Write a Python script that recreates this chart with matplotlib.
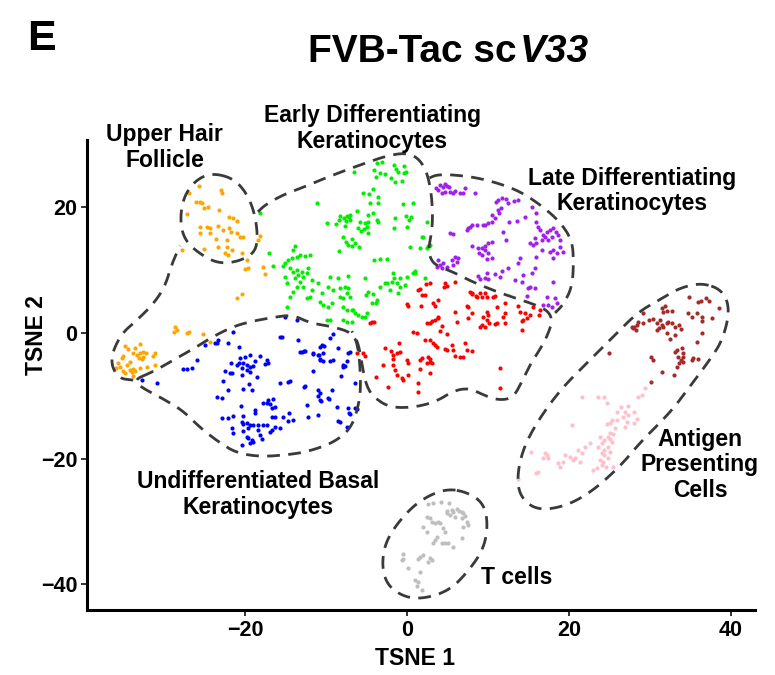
import numpy as np
import matplotlib
matplotlib.use("Agg")
import matplotlib.pyplot as plt

plt.rcParams['font.family'] = ['Liberation Sans', 'DejaVu Sans']
plt.rcParams['font.weight'] = 'bold'

# --- cell coordinates (TSNE 1, TSNE 2) ---
upper_hair_follicle = [
    (-25.7, 23.4), (-26.9, 22.3), (-23.0, 22.8), (-22.8, 22.3), (-26.0, 20.9), (-25.6, 20.9),
    (-25.3, 20.7), (-25.1, 19.9), (-24.6, 20.1), (-23.2, 19.6), (-27.2, 18.9), (-22.0, 18.5),
    (-21.5, 18.3), (-21.0, 17.8), (-25.6, 16.9), (-24.7, 16.9), (-24.3, 16.7), (-23.3, 17.0),
    (-22.7, 16.4), (-22.0, 16.7), (-25.6, 15.9), (-24.3, 15.9), (-21.7, 16.1), (-21.0, 15.9),
    (-23.6, 15.0), (-20.6, 15.3), (-20.2, 15.3), (-18.1, 15.4), (-18.4, 14.8), (-22.2, 14.8),
    (-23.3, 13.7), (-25.1, 13.4), (-22.2, 13.7), (-21.6, 13.2), (-27.8, 13.2), (-22.5, 12.7),
    (-22.1, 12.4), (-20.4, 12.7), (-19.8, 11.6), (-19.6, 10.4), (-20.0, 10.2), (-17.8, 10.5),
    (-17.5, 9.4), (-21.0, 5.6), (-20.4, 6.2), (-28.6, 1.0), (-28.4, 0.5), (-28.8, 0.2),
    (-27.2, 0.0), (-26.9, 0.2), (-25.2, -0.2), (-24.3, -1.4),
    (-34.8, -2.1), (-34.4, -2.5), (-33.6, -2.4), (-33.0, -1.8), (-33.8, -3.2), (-33.3, -3.5),
    (-33.0, -3.2), (-32.6, -3.0), (-32.2, -3.2), (-31.1, -3.2), (-31.4, -3.7), (-35.1, -3.7),
    (-35.2, -4.0), (-34.2, -4.6), (-33.1, -4.0), (-32.7, -4.1), (-32.6, -3.8), (-35.7, -4.8),
    (-35.9, -5.6), (-35.1, -6.1), (-34.8, -6.4), (-34.2, -5.9), (-34.0, -6.2), (-33.8, -5.7),
    (-33.6, -6.1), (-33.0, -5.6), (-32.1, -5.4), (-31.1, -5.1), (-33.8, -6.8), (-35.4, -5.4),
    (-34.6, -5.1),
]

early_diff = [
    (-3.7, 27.1), (-3.1, 27.2), (-1.6, 26.8), (-0.4, 26.6), (-0.1, 25.6), (-0.4, 25.5),
    (-1.4, 26.1), (-1.1, 25.6), (-6.5, 25.6), (-4.1, 26.0), (-3.8, 24.8), (-3.3, 25.5),
    (-2.7, 25.3), (-2.0, 24.7), (-1.5, 24.0), (-0.6, 24.2), (-4.2, 22.9), (-5.4, 22.3),
    (-4.7, 22.1), (-3.6, 21.7), (-4.6, 20.7), (-3.6, 20.7), (-11.1, 20.7), (-0.5, 20.5),
    (0.7, 20.7), (-18.1, 19.1), (-6.2, 19.4), (-8.3, 18.6), (-7.8, 18.3), (-7.4, 18.6),
    (-7.2, 18.5), (-7.0, 18.8), (-8.4, 18.0), (-7.5, 17.8), (-7.0, 18.0), (-4.8, 18.8),
    (-4.2, 19.1), (-1.5, 18.3), (-0.1, 18.6), (0.2, 18.0), (0.5, 18.5), (-5.8, 17.7),
    (-5.2, 17.5), (-4.8, 17.7), (-3.7, 18.0), (-3.6, 17.7), (-9.9, 17.5), (-8.8, 17.4),
    (-7.7, 17.0), (-6.0, 16.7), (-5.7, 16.2), (-5.3, 16.6), (-4.9, 16.9), (-4.8, 15.9),
    (-1.6, 16.7), (0.0, 16.9), (-7.9, 15.3), (-6.8, 15.0), (-7.5, 14.5), (-7.3, 14.0),
    (-6.8, 13.9), (-6.4, 14.3), (-5.9, 13.7), (1.9, 15.3), (-8.4, 13.1), (0.4, 13.7),
    (1.6, 13.5), (2.7, 13.9), (-13.8, 13.9), (-14.1, 13.2), (-17.0, 12.7), (-16.5, 10.7),
    (-15.1, 11.1), (-15.3, 10.7), (-14.7, 11.6), (-14.2, 11.9), (-13.6, 12.1), (-13.2, 12.4),
    (-12.6, 12.3), (-12.0, 12.4), (-14.4, 10.4), (-14.1, 9.7), (-13.6, 10.0), (-13.5, 9.2),
    (-13.0, 9.7), (-12.8, 8.9), (-12.3, 9.6), (-12.2, 10.4), (-13.8, 8.8), (-13.2, 8.1),
    (-12.8, 7.3), (-13.6, 7.3), (-14.1, 6.5), (-14.4, 5.7), (-14.8, 8.0), (-15.1, 8.9),
    (-11.7, 8.4), (-11.7, 6.8), (-11.0, 8.0), (-10.5, 6.4), (-10.7, 4.9), (-12.0, 5.7),
    (-12.3, 5.6), (-14.8, 4.1), (-9.5, 8.9), (-8.5, 8.8), (-7.3, 9.1), (-9.8, 7.3),
    (-9.1, 6.8), (-8.3, 7.2), (-7.7, 7.3), (-7.3, 7.2), (-7.4, 6.4), (-7.9, 5.6),
    (-7.0, 5.7), (-8.3, 5.7), (-10.4, 4.5), (-9.3, 4.8), (-9.8, 4.1), (-7.9, 4.1),
    (-7.4, 3.7), (-6.8, 3.7), (-6.4, 3.2), (-6.0, 2.9), (-5.6, 2.5), (-5.2, 2.5),
    (-9.9, 2.1), (-9.5, 2.1), (-7.9, 2.1), (-7.4, 1.8), (-6.8, 1.8), (-4.0, 11.6),
    (-3.3, 11.8), (-2.5, 11.8), (-5.2, 8.8), (-3.3, 7.3), (-2.5, 8.0), (-1.9, 8.1),
    (-1.6, 8.8), (-1.2, 8.0), (-0.9, 7.3), (-0.2, 7.6), (0.0, 8.9), (1.0, 9.6),
    (1.0, 9.9), (-4.8, 6.5), (-5.1, 6.1), (-4.2, 6.2), (-3.7, 5.3), (-4.3, 4.8),
    (-3.8, 4.8), (-4.9, 3.2), (2.5, 17.7), (2.0, 15.3), (2.6, 13.9), (2.5, 13.5),
    (2.8, 14.0), (2.2, 8.8), (-1.7, 9.6), (-0.9, 8.8), (0.7, 9.6), (-2.7, 8.0),
    (-2.1, 6.8), (-1.1, 6.4), (-6.7, 3.7),
]

late_diff = [
    (4.1, 23.6), (4.4, 23.2), (4.7, 23.7), (4.9, 23.4), (5.2, 23.2), (3.6, 23.1), (3.8, 22.8),
    (4.3, 22.3), (4.7, 22.5), (5.3, 22.5), (5.7, 22.3), (5.9, 22.6), (6.5, 22.3), (6.9, 22.3),
    (7.2, 23.1), (8.4, 22.3), (11.2, 21.2), (11.0, 20.9), (11.7, 21.5), (12.3, 21.3),
    (12.5, 20.7), (13.2, 21.0), (13.7, 21.2), (11.6, 19.9), (10.5, 18.8), (11.2, 19.6),
    (11.4, 19.1), (10.9, 18.3), (10.5, 17.7), (10.0, 17.5), (9.6, 17.2), (9.4, 17.2),
    (8.1, 17.2), (8.6, 17.2), (7.8, 16.9), (7.4, 16.4), (7.5, 16.7), (12.6, 17.7),
    (13.6, 17.8), (14.6, 18.5), (15.4, 20.1), (16.0, 19.1), (5.3, 15.9), (5.7, 15.8),
    (11.9, 16.1), (12.3, 14.8), (10.5, 14.5), (10.0, 14.3), (9.6, 13.9), (9.3, 13.5),
    (8.8, 13.5), (8.1, 13.9), (8.9, 12.7), (9.3, 12.4), (10.0, 12.7), (10.5, 11.9),
    (9.9, 11.8), (9.6, 13.2), (16.0, 17.7), (16.2, 16.9), (16.4, 16.4), (16.8, 15.6),
    (17.3, 16.1), (17.7, 16.4), (18.0, 16.7), (18.4, 16.1), (18.6, 15.6), (17.9, 15.3),
    (17.4, 14.8), (17.0, 15.3), (16.7, 14.8), (16.0, 14.3), (15.6, 14.0), (15.2, 14.3),
    (15.8, 15.1), (18.9, 14.8), (18.0, 13.2), (17.7, 12.9), (18.5, 12.7), (19.3, 12.9),
    (18.9, 13.7), (18.0, 11.9), (16.0, 12.1), (16.7, 13.2), (5.9, 12.1), (6.3, 11.9),
    (6.2, 11.3), (5.6, 11.6), (5.7, 10.8), (4.9, 10.5), (4.4, 11.1), (4.1, 10.8),
    (3.8, 11.6), (3.7, 10.5), (4.3, 10.4), (14.0, 11.9), (13.7, 11.1), (12.5, 10.4),
    (11.7, 9.9), (10.9, 9.4), (11.5, 8.9), (9.9, 9.6), (9.6, 8.8), (9.0, 8.6), (8.8, 9.1),
    (10.0, 8.6), (14.3, 9.2), (13.3, 8.4), (15.8, 10.4), (15.4, 9.6), (14.2, 8.1),
    (14.9, 7.2), (15.8, 7.2), (18.0, 8.1), (17.3, 5.7), (17.4, 4.5), (17.9, 4.1),
    (18.5, 4.8), (18.3, 5.6), (16.8, 4.5), (15.2, 7.3), (14.8, 5.9),
]

red_cluster = [
    (2.8, 8.0), (2.3, 7.8), (4.7, 8.0), (4.9, 7.5), (4.6, 7.3), (5.9, 8.1), (1.4, 6.8),
    (1.6, 7.0), (2.2, 6.1), (1.7, 4.3), (0.1, 4.3), (0.0, 4.6), (7.8, 6.5), (8.1, 6.2),
    (8.5, 5.9), (9.0, 6.4), (9.6, 6.4), (9.3, 5.7), (8.6, 5.7), (9.9, 5.7), (10.9, 5.9),
    (12.1, 4.8), (11.1, 4.1), (13.7, 4.3), (14.0, 3.3), (14.6, 3.2), (15.6, 4.1), (16.4, 3.7),
    (7.4, 4.3), (8.1, 3.2), (7.5, 2.4), (9.9, 3.3), (10.0, 2.9), (9.4, 2.5), (9.3, 1.3),
    (9.0, 1.0), (9.6, 1.0), (10.2, 1.6), (10.9, 1.4), (11.1, 1.6), (9.9, 2.1), (12.1, 3.2),
    (12.1, 1.6), (14.2, 0.5), (14.3, 2.1), (14.8, 2.4), (5.9, 3.3), (6.2, 1.8), (-4.6, 1.6),
    (-4.1, 1.8), (3.8, 2.4), (3.5, 2.1), (3.1, 1.9), (2.8, 1.6), (4.3, 1.1), (4.1, 0.3),
    (4.9, -0.2), (0.7, 0.2), (1.2, 0.0), (2.2, -1.1), (3.2, -1.6), (3.5, -1.9), (2.8, -1.1),
    (3.7, -2.2), (4.9, -2.7), (4.7, -2.5), (5.6, -1.9), (5.7, -2.7), (7.2, -1.6), (7.4, -2.7),
    (8.0, -2.9), (5.9, -3.7), (6.5, -3.8), (6.9, -3.8), (-2.7, -2.4), (-1.0, -1.6),
    (-0.9, -3.0), (-1.2, -3.2), (-2.0, -2.9), (-1.7, -3.5), (-1.7, -4.1), (-5.4, -3.2),
    (-6.2, -3.2), (-3.0, -5.1), (-1.7, -5.1), (0.0, -4.3), (0.1, -4.8), (1.6, -4.3),
    (1.9, -4.0), (2.6, -3.8), (2.8, -4.1), (2.8, -4.6), (3.1, -4.8), (2.5, -4.8),
    (-1.5, -5.9), (-1.2, -6.7), (-0.6, -7.2), (-0.5, -7.5), (0.1, -6.7), (1.6, -5.7),
    (2.8, -6.4), (-3.8, -7.0), (-2.3, -8.6), (1.4, -8.0), (1.4, -9.4), (11.5, -5.6),
    (11.5, -8.8), (1.9, 6.1), (3.5, 4.3), (3.8, 2.5), (7.5, 4.1), (8.0, 6.4), (10.6, 5.7),
    (11.9, 2.5), (15.2, 2.9), (16.3, 2.9), (14.2, 1.9), (-5.2, -3.7), (-4.3, 1.8),
    (3.2, 4.8), (3.8, 5.3), (2.5, 1.6),
]

basal = [
    (-15.1, 2.5), (-13.6, 2.1), (-21.5, 0.2), (-22.1, -1.6), (-23.5, -1.6), (-23.3, -1.1),
    (-15.7, -0.6), (-15.4, -0.6), (-13.5, -1.1), (-20.7, -2.2), (-25.9, -4.3), (-27.7, -5.7),
    (-27.2, -5.7), (-26.5, -5.6), (-32.7, -7.5), (-30.9, -8.0), (-9.1, -0.2), (-9.5, -0.8),
    (-10.5, -1.9), (-10.4, -3.2), (-11.0, -3.5), (-11.6, -3.3), (-12.7, -2.9), (-13.0, -3.0),
    (-8.5, -2.4), (-7.3, -3.2), (-7.0, -3.0), (-10.7, -4.1), (-10.4, -4.5), (-9.5, -4.5),
    (-9.1, -4.3), (-7.4, -4.5), (-7.9, -5.1), (-7.9, -5.4), (-11.6, -6.1), (-8.1, -6.8),
    (-6.4, -8.0), (-14.7, -7.8), (-14.4, -7.6), (-15.7, -8.0), (-12.6, -8.4), (-11.0, -9.1),
    (-10.7, -9.6), (-11.0, -10.0), (-9.8, -10.4), (-9.3, -9.1), (-10.7, -10.7), (-12.3, -11.5),
    (-11.0, -13.1), (-12.2, -13.4), (-8.6, -11.8), (-8.5, -14.0), (-7.3, -11.9), (-7.2, -12.7),
    (-6.2, -12.1), (-7.4, -15.0), (-20.6, -4.0), (-20.0, -3.8), (-19.4, -3.5), (-18.1, -3.7),
    (-18.8, -4.5), (-17.3, -4.3), (-17.5, -4.9), (-17.2, -4.8), (-21.7, -4.8), (-21.0, -5.1),
    (-20.7, -4.8), (-20.2, -4.8), (-19.8, -5.1), (-19.4, -5.4), (-19.0, -5.3), (-20.4, -5.6),
    (-19.8, -5.9), (-19.4, -6.2), (-22.5, -6.1), (-21.9, -6.4), (-21.6, -6.4), (-20.4, -6.7),
    (-18.5, -7.0), (-22.7, -7.6), (-19.5, -8.1), (-20.2, -8.9), (-19.1, -9.1), (-22.1, -9.1),
    (-24.9, -1.9), (-23.7, -1.6), (-23.5, -10.2), (-22.8, -10.4), (-17.8, -11.1), (-17.3, -11.1),
    (-16.9, -11.3), (-17.2, -10.7), (-16.5, -10.5), (-16.7, -11.9), (-16.3, -11.8), (-20.5, -11.6),
    (-18.8, -12.3), (-18.8, -12.7), (-20.2, -13.2), (-21.5, -13.2), (-22.8, -13.5), (-22.1, -13.5),
    (-20.4, -14.2), (-20.2, -14.5), (-19.8, -14.3), (-19.4, -14.6), (-19.0, -14.6), (-18.4, -14.6),
    (-17.8, -14.6), (-17.3, -14.6), (-16.7, -13.4), (-16.3, -13.4), (-15.3, -13.4), (-14.6, -12.7),
    (-14.1, -13.9), (-14.7, -14.0), (-15.7, -15.1), (-16.3, -15.0), (-16.7, -15.4), (-16.9, -15.8),
    (-18.4, -15.4), (-19.6, -15.1), (-20.2, -15.6), (-21.6, -15.1), (-21.5, -15.9), (-19.8, -16.6),
    (-19.6, -16.7), (-19.1, -17.0), (-19.0, -17.4), (-19.4, -17.5), (-18.1, -16.2), (-17.9, -16.9),
    (-20.4, -17.8), (-13.2, -3.0), (-12.6, -2.9), (-11.6, -3.2), (-10.9, -3.5), (-10.7, -4.3),
    (-10.2, -2.1), (-10.7, -2.2), (-12.7, -8.6), (-10.6, -10.8), (-9.6, -10.5), (-7.0, -12.9),
    (-6.4, -11.9), (-8.3, -14.2), (-7.7, -5.3),
]

apc_dark = [
    (34.9, 5.7), (35.9, 4.9), (36.3, 5.1), (37.0, 5.6), (37.3, 5.1), (38.5, 4.0), (31.9, 4.3),
    (31.5, 4.0), (31.6, 3.3), (32.1, 3.5), (32.8, 3.5), (29.1, 3.2), (29.9, 2.1), (30.4, 2.2),
    (30.9, 1.6), (31.2, 2.1), (31.5, 1.3), (30.9, 0.5), (31.1, 0.8), (31.6, 1.0), (32.1, 1.6),
    (32.3, 1.8), (32.8, 1.6), (33.1, 1.0), (33.6, 1.3), (33.8, 0.6), (28.4, 1.3), (28.1, 1.0),
    (27.9, 0.8), (27.8, 1.0), (28.3, 0.5), (28.5, 1.8), (29.1, 1.6), (34.7, 3.2), (35.2, 2.5),
    (35.8, 3.2), (36.5, 2.5), (36.5, 1.9), (37.7, 2.4), (32.1, 0.0), (32.5, -1.0), (33.1, -0.3),
    (36.4, 0.0), (35.8, -1.4), (33.1, -3.0), (33.3, -2.7), (34.0, -2.4), (34.1, -3.2),
    (34.1, -3.8), (33.5, -3.8), (33.8, -4.3), (33.6, -4.8), (33.3, -5.4), (34.1, -4.6),
    (30.2, -3.8), (30.4, -4.3), (35.3, -4.0), (35.2, -4.3), (35.9, -4.1), (31.5, -6.2),
    (33.0, -6.7), (30.1, -7.8), (24.9, -3.2),
]

apc_light = [
    (29.4, -8.8), (29.0, -9.9), (28.5, -10.2), (21.6, -10.2), (23.6, -10.2), (24.4, -10.2),
    (24.7, -11.1), (27.3, -11.6), (26.5, -11.8), (26.0, -12.6), (26.9, -12.6), (27.3, -13.1),
    (26.7, -13.4), (28.1, -12.6), (28.4, -13.7), (28.0, -14.3), (27.2, -14.2), (26.9, -15.0),
    (25.9, -13.9), (25.3, -13.9), (25.1, -14.3), (25.7, -15.1), (24.7, -14.5), (20.4, -14.6),
    (25.1, -15.9), (25.4, -16.1), (24.8, -16.6), (25.1, -16.9), (25.3, -17.4), (24.4, -17.0),
    (24.1, -17.5), (23.8, -16.6), (23.6, -18.2), (24.8, -18.2), (24.4, -18.6), (24.1, -19.1),
    (24.4, -19.4), (25.1, -18.9), (23.8, -20.2), (24.2, -20.5), (24.8, -19.9), (24.1, -21.0),
    (23.5, -21.5), (25.4, -21.3), (22.6, -17.5), (22.0, -18.2), (21.1, -18.6), (21.6, -19.1),
    (21.4, -20.5), (20.7, -19.9), (20.1, -19.7), (19.5, -19.4), (19.3, -20.5), (18.6, -20.7),
    (20.5, -20.2), (18.9, -21.3), (17.0, -19.1), (17.3, -19.4), (17.4, -19.9), (16.8, -19.9),
    (16.2, -22.1), (16.0, -22.3), (15.3, -18.9), (13.7, -23.2), (23.0, -21.8), (24.6, -21.3),
]

t_cells = [
    (2.6, -27.2), (3.2, -27.1), (4.2, -26.9), (5.2, -27.1), (4.9, -28.3), (5.6, -28.2),
    (5.7, -28.5), (6.2, -28.0), (6.4, -28.3), (6.8, -28.5), (6.9, -28.7), (7.2, -29.1),
    (6.8, -29.5), (7.4, -30.1), (7.5, -30.6), (6.9, -30.9), (5.9, -29.3), (5.3, -29.0),
    (4.9, -28.7), (2.5, -29.3), (2.8, -29.5), (3.1, -30.1), (3.5, -30.3), (3.8, -30.1),
    (4.1, -30.3), (2.0, -30.9), (2.5, -31.7), (4.4, -31.1), (4.7, -31.7), (3.5, -33.0),
    (3.7, -32.5), (3.2, -33.4), (4.3, -33.4), (4.7, -33.4), (5.1, -33.4), (5.7, -34.1),
    (6.8, -32.6), (-0.5, -35.2), (-0.6, -36.1), (-0.5, -36.0), (1.4, -36.0), (1.6, -35.7),
    (2.0, -35.4), (2.8, -35.8), (3.1, -36.1), (2.6, -36.5), (0.1, -37.4), (1.6, -38.1),
    (1.0, -39.3), (1.4, -39.6), (1.2, -40.3), (1.9, -40.9),
]

cluster_colors = ['#FFA500', '#00EE00', '#A020F0', '#FF0000', '#0000FF',
                  '#A52A2A', '#FFC0CB', '#BEBEBE']

# --- hand drawn region outlines (data coords) ---
follicle_ring = [(-24.3, 25.5), (-21.5, 24.7), (-19.8, 22.3), (-18.8, 19.1), (-18.4, 15.3),
                 (-18.8, 12.7), (-21.0, 11.3), (-23.5, 11.1), (-25.9, 12.9), (-27.4, 14.8),
                 (-28.0, 17.5), (-27.7, 21.2), (-26.4, 24.0)]
early_arm = [(-33.8, -7.5), (-35.7, -7.2), (-36.7, -4.3), (-35.4, -0.3), (-33.3, 2.1),
             (-31.4, 4.5), (-29.9, 7.3), (-29.0, 11.1), (-28.0, 13.9)]
early_body = [(-18.4, 19.3), (-17.5, 20.4), (-15.3, 22.0), (-12.8, 23.2), (-10.4, 24.5),
              (-7.4, 26.0), (-4.8, 27.2), (-2.5, 28.2), (-0.2, 28.7), (1.4, 27.9), (2.5, 25.6),
              (3.1, 21.7), (3.2, 16.9), (2.6, 13.2), (3.1, 11.3), (4.1, 10.5), (5.7, 9.7),
              (6.9, 8.9), (8.4, 8.0), (9.9, 7.2), (11.5, 6.4), (13.3, 5.6), (15.2, 4.8),
              (17.3, 3.7), (18.0, 2.1), (17.4, -0.3), (16.4, -2.7), (15.4, -4.6), (14.3, -7.5),
              (13.1, -10.4), (11.1, -10.7), (9.0, -9.6), (7.8, -8.8), (5.9, -9.1), (3.5, -11.0),
              (0.6, -11.9), (-2.3, -11.8), (-4.3, -10.0), (-5.1, -8.0), (-5.6, -4.6),
              (-6.0, -1.6), (-6.8, 0.3)]
late_edge = [(2.8, 24.7), (3.7, 25.2), (5.7, 25.2), (8.8, 24.7), (11.9, 23.6), (14.3, 22.3),
             (16.8, 20.1), (18.9, 17.7), (20.4, 14.8), (20.6, 11.3), (20.4, 7.3), (19.3, 4.5),
             (18.3, 3.2)]
basal_ring = [(-33.8, -7.5), (-31.4, -6.2), (-28.4, -4.0), (-26.2, -2.4), (-24.0, -0.6),
              (-21.5, 1.0), (-19.4, 1.8), (-16.5, 2.5), (-14.1, 2.9), (-12.0, 1.6), (-9.1, 1.0),
              (-6.7, 0.0), (-6.0, -2.2), (-5.7, -7.0), (-5.8, -10.7), (-6.8, -15.1), (-9.1, -17.5),
              (-12.3, -18.9), (-14.8, -19.4), (-18.1, -19.7), (-21.0, -19.1), (-23.1, -17.5),
              (-25.6, -15.0), (-27.7, -12.3), (-30.5, -10.2), (-32.6, -8.8)]
apc_ring = [(36.5, 8.0), (39.0, 6.8), (39.9, 3.7), (39.0, -1.1), (37.4, -4.3), (34.9, -8.6),
            (32.5, -12.7), (29.1, -17.0), (26.3, -21.3), (22.6, -25.5), (19.3, -27.7),
            (16.0, -28.2), (14.0, -26.1), (13.6, -22.9), (14.3, -18.6), (16.0, -14.3),
            (18.9, -9.1), (22.2, -4.8), (25.1, -1.1), (28.4, 3.2), (31.2, 5.3), (33.7, 7.2)]
t_ring = [(4.9, -24.7), (7.8, -25.5), (9.6, -27.4), (10.0, -30.9), (9.4, -34.6), (7.4, -38.2),
          (5.3, -40.9), (2.5, -42.2), (0.0, -42.2), (-2.3, -40.4), (-3.1, -37.3), (-2.7, -33.4),
          (-0.9, -29.8), (1.6, -26.6)]

x_ticks = [-20, 0, 20, 40]
y_ticks = [-40, -20, 0, 20]


def chaikin(pts, closed, n=3):
    p = np.asarray(pts, dtype=float)
    for _ in range(n):
        if closed:
            q = np.roll(p, -1, axis=0)
            p = np.column_stack([0.75 * p + 0.25 * q, 0.25 * p + 0.75 * q]).reshape(-1, 2)
        else:
            a, b = p[:-1], p[1:]
            mid = np.column_stack([0.75 * a + 0.25 * b, 0.25 * a + 0.75 * b]).reshape(-1, 2)
            p = np.vstack([p[:1], mid, p[-1:]])
    if closed:
        p = np.vstack([p, p[:1]])
    return p


fig = plt.figure(figsize=(7.75, 6.75), dpi=100)
ax = fig.add_axes([0.1123, 0.0963, 0.862, 0.696])

clusters = [upper_hair_follicle, early_diff, late_diff, red_cluster, basal,
            apc_dark, apc_light, t_cells]
for pts, col in zip(clusters, cluster_colors):
    arr = np.array(pts)
    ax.scatter(arr[:, 0], arr[:, 1], s=9, c=col, linewidths=0, zorder=2)

dash = dict(color='#3a3a3a', lw=2.0, linestyle=(0, (4.6, 3.0)), zorder=3,
            dash_capstyle='butt')
for ring in [follicle_ring, basal_ring, apc_ring, t_ring]:
    p = chaikin(ring, closed=True)
    ax.plot(p[:, 0], p[:, 1], **dash)
for edge in [early_arm, early_body, late_edge]:
    p = chaikin(edge, closed=False)
    ax.plot(p[:, 0], p[:, 1], **dash)

lab = dict(fontsize=16.5, fontweight='bold', ha='center', va='center',
           linespacing=1.15, clip_on=False, zorder=4)
ax.text(-29.9, 29.5, 'Upper Hair\nFollicle', **lab)
ax.text(-4.3, 32.6, 'Early Differentiating\nKeratinocytes', **lab)
ax.text(27.8, 22.6, 'Late Differentiating\nKeratinocytes', **lab)
ax.text(-18.4, -25.7, 'Undifferentiated Basal\nKeratinocytes', **lab)
ax.text(36.2, -21.0, 'Antigen\nPresenting\nCells', **lab)
ax.text(13.6, -38.9, 'T cells', **lab)

ax.set_xlim(-39.5, 43)
ax.set_ylim(-44.1, 30.7)
ax.set_xticks(x_ticks)
ax.set_yticks(y_ticks)
ax.set_xticklabels([str(v).replace('-', '\u2212') for v in x_ticks])
ax.set_yticklabels([str(v).replace('-', '\u2212') for v in y_ticks])
for side in ['top', 'right']:
    ax.spines[side].set_visible(False)
for side in ['left', 'bottom']:
    ax.spines[side].set_linewidth(2.2)
ax.tick_params(axis='both', width=1.4, length=4, labelsize=15.5, pad=3, color='#333333')
for t in ax.get_xticklabels() + ax.get_yticklabels():
    t.set_fontweight('bold')
ax.set_xlabel('TSNE 1', fontsize=16.5, fontweight='bold')
ax.set_ylabel('TSNE 2', fontsize=16.5, fontweight='bold')
ax.xaxis.set_label_coords(0.491, -0.078)
ax.yaxis.set_label_coords(-0.058, 0.585)

fig.text(0.035, 0.926, 'E', fontsize=31, fontweight='bold', va='baseline', ha='left')
fig.text(0.667, 0.908, 'FVB-Tac sc', fontsize=28, fontweight='bold', va='baseline', ha='right')
fig.text(0.671, 0.908, 'V33', fontsize=28, fontweight='bold', fontstyle='italic',
         va='baseline', ha='left')

fig.savefig('out.png', dpi=100)
